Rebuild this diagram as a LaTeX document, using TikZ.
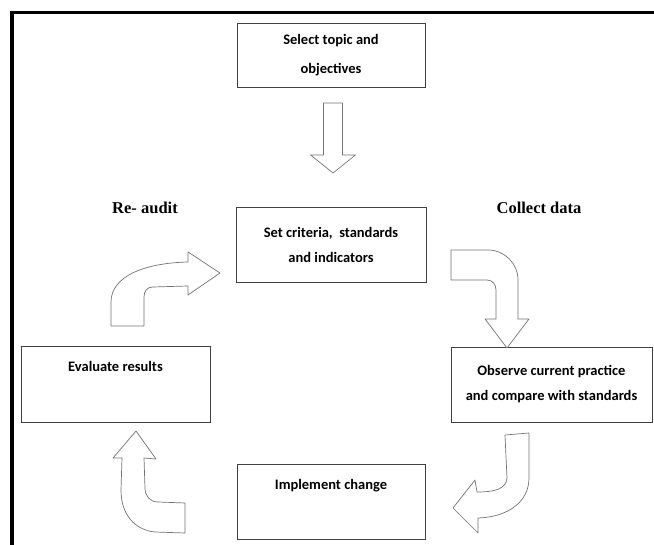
\documentclass[tikz,border=0pt]{standalone}
\usepackage{fontspec}
\setmainfont{Liberation Serif}
\newfontfamily\boxfont{Carlito}

\begin{document}
\begin{tikzpicture}[x=1pt,y=-1pt,
  stage/.style={draw=black!75,line width=0.9pt,fill=white,align=center,inner sep=0pt,
    font=\boxfont\bfseries\fontsize{14.5}{25}\selectfont},
  oneline/.style={text height=11pt,text depth=35pt},
  cyclelabel/.style={font=\bfseries\fontsize{16.5}{20}\selectfont},
  blockarrow/.style={draw=black!55,line width=0.7pt,fill=white,line join=round}]
\useasboundingbox (0,0) rectangle (654,545);

% frame
\draw[line width=3.5pt] (12,547) |- (656,12.5);

\node[stage,minimum width=188,minimum height=64,
  font=\boxfont\bfseries\fontsize{14.5}{29}\selectfont] (topic) at (331,55) {Select topic and\\objectives};
\node[stage,minimum width=190,minimum height=75] (criteria) at (331,244.5) {Set criteria,~ standards\\and indicators};
\node[stage,minimum width=201,minimum height=75] (observe) at (551.5,384.5) {Observe current practice\\and compare with standards};
\node[stage,oneline,minimum width=188,minimum height=75] (implement) at (331,501.5) {Implement change};
\node[stage,oneline,minimum width=189,minimum height=76] (evaluate) at (115.5,384) {Evaluate results};

\node[cyclelabel] (reaudit) at (145,208) {Re- audit};
\node[cyclelabel] (collect) at (539,208) {Collect data};

% topic -> criteria
\draw[blockarrow] (323.5,103) -- (342.5,103) -- (342.5,155) -- (355.5,155) -- (333,173)
  -- (310.5,155) -- (323.5,155) -- cycle;
% criteria -> observe
\draw[blockarrow] (451,250) -- (488,250) .. controls (504.5,250) and (518,263.5) .. (518,280)
  -- (518,319) -- (529,319) -- (507,348) -- (485,319) -- (496,319) -- (496,290)
  .. controls (496,284.5) and (492.5,280) .. (487,280) -- (451,280) -- cycle;
% observe -> implement
\draw[blockarrow] (505,435) -- (529,433) -- (529,478) .. controls (529,502) and (508,517) .. (478,518)
  -- (478,533) -- (453,508) -- (475,480) -- (477,492)
  .. controls (495,492) and (506,489) .. (507,478) -- cycle;
% implement -> evaluate
\draw[blockarrow] (136,431) -- (156,459) -- (144,458) -- (145,488)
  .. controls (145,496) and (150,502) .. (158,502) -- (185,503) -- (185,533) -- (155,532)
  .. controls (135,530) and (121,515) .. (121,490) -- (122,458) -- (113,458) -- cycle;
% evaluate -> criteria
\draw[blockarrow] (111,326) -- (111,302) .. controls (111,276) and (145,263) .. (188,262)
  -- (188,252) -- (220,273) -- (188,295) -- (188,286) -- (153,287)
  .. controls (147,287) and (144,291) .. (144,297) -- (144,326) -- cycle;

\end{tikzpicture}
\end{document}
